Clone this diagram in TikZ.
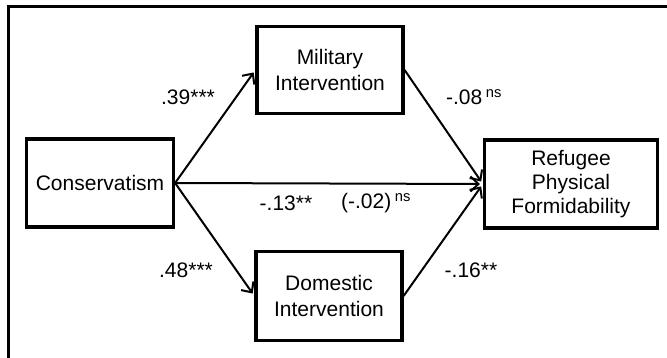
\documentclass[tikz,border=0pt]{standalone}
\usepackage{fontspec}
\setmainfont{Liberation Sans}
\usetikzlibrary{arrows.meta}

\begin{document}
\begin{tikzpicture}[x=1pt, y=-1pt,
    var/.style={draw, line width=3.2pt, align=center, inner sep=0pt,
      font=\fontsize{21}{26}\selectfont},
    coef/.style={font=\fontsize{21}{25}\selectfont, inner sep=1pt},
    path/.style={line width=2pt, -{Straight Barb[length=8pt, width=15pt, line width=2pt]}, shorten >=3pt}]
    \clip (0,0) rectangle (667,358);
    \fill[white] (0,0) rectangle (667,358);
    % outer frame, open to the right and bottom
    \draw[line width=3pt] (8,400) -- (8,7) -- (700,7);
    \node[var, minimum width=147pt, minimum height=88pt] (cons) at (100,183) {Conservatism};
    \node[var, minimum width=146pt, minimum height=87pt] (mil) at (330,70) {Military\\Intervention};
    \node[var, minimum width=146pt, minimum height=89pt] (dom) at (329,296) {Domestic\\Intervention};
    \node[var, minimum width=173pt, minimum height=88pt, font=\fontsize{21}{24}\selectfont] (ref) at (571,184) {Refugee\\Physical\\Formidability};
    \draw[path] (cons.east) -- (mil.west);
    \draw[path] (cons.east) -- (dom.west);
    \draw[path] (cons.east) -- (ref.west);
    \draw[path] (mil.east) -- (ref.west);
    \draw[path] (dom.east) -- (ref.west);
    % path coefficients
    \node[coef] (a1) at (188,97) {.39***};
    \node[coef] (a2) at (186,270) {.48***};
    \node[coef] (b1) at (474,97) {-.08\,\textsuperscript{ns}};
    \node[coef] (b2) at (471,270) {-.16**};
    \node[coef] (c1) at (286,203) {-.13**};
    \node[coef] (c2) at (376,203) {(-.02)\,\textsuperscript{ns}};
\end{tikzpicture}
\end{document}
